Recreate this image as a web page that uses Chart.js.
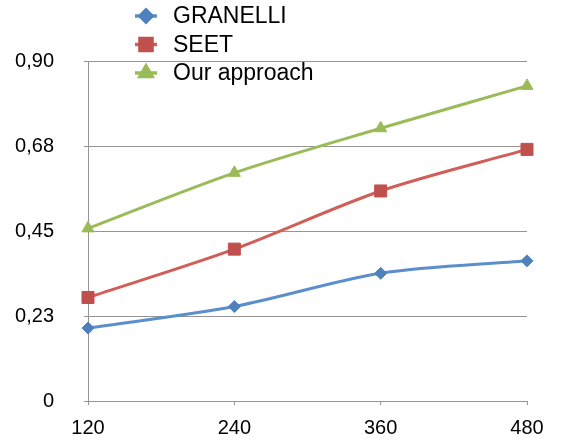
<!DOCTYPE html>
<html>
<head>
<meta charset="utf-8">
<script src="https://cdn.jsdelivr.net/npm/chart.js@4/dist/chart.umd.min.js"></script>
<style>
  html, body { margin: 0; padding: 0; background: #fff; }
</style>
</head>
<body>
<canvas id="chart" width="567" height="444"></canvas>
<script>
// data
const categories = ['120', '240', '360', '480']
const granelli = [0.193, 0.250, 0.338, 0.371]
const seet = [0.274, 0.402, 0.556, 0.666]
const ourApproach = [0.457, 0.604, 0.722, 0.834]
const yTickLabels = ['0', '0,23', '0,45', '0,68', '0,90']

const FONT = "'Liberation Sans', Arial, Helvetica, sans-serif"
const GRID = '#959595'

// vertical legend drawn on top of the plot, like the original
const stackedLegend = {
    id: 'stackedLegend',
    afterDraw(chart) {
        const ctx = chart.ctx
        ctx.save()
        chart.data.datasets.forEach((ds, i) => {
            const y = 16 + i * 28.5
            ctx.strokeStyle = ds.borderColor
            ctx.lineWidth = 3.5
            ctx.beginPath()
            ctx.moveTo(135, y)
            ctx.lineTo(157, y)
            ctx.stroke()
            ctx.fillStyle = ds.pointBackgroundColor
            ctx.strokeStyle = ds.pointBackgroundColor
            Chart.helpers.drawPoint(ctx, {
                pointStyle: ds.pointStyle,
                radius: ds.pointRadius,
                rotation: 0,
                borderWidth: 1
            }, 146, y)
            ctx.fillStyle = '#000'
            ctx.font = '23px ' + FONT
            ctx.textBaseline = 'middle'
            ctx.textAlign = 'left'
            ctx.fillText(ds.label, 173, y + 1)
        })
        ctx.restore()
    }
}

new Chart(document.getElementById('chart'), {
    type: 'line',
    data: {
        labels: categories,
        datasets: [{
            label: 'GRANELLI',
            data: granelli,
            borderColor: '#5b8fcc',
            pointBackgroundColor: '#4f81bd',
            pointBorderColor: '#4f81bd',
            pointStyle: 'rectRot',
            pointRadius: 6
        }, {
            label: 'SEET',
            data: seet,
            borderColor: '#cf5f58',
            pointBackgroundColor: '#c0504d',
            pointBorderColor: '#c0504d',
            pointStyle: 'rect',
            pointRadius: 8.5
        }, {
            label: 'Our approach',
            data: ourApproach,
            borderColor: '#9bbb59',
            pointBackgroundColor: '#9bbb59',
            pointBorderColor: '#9bbb59',
            pointStyle: 'triangle',
            pointRadius: 7
        }]
    },
    options: {
        responsive: false,
        animation: false,
        layout: { padding: { top: 61, right: 40, left: 0, bottom: 0 } },
        elements: {
            line: { borderWidth: 3, tension: 0.3 },
            point: { borderWidth: 1, hoverRadius: 6 }
        },
        datasets: { line: { clip: false } },
        plugins: {
            legend: { display: false },
            tooltip: { enabled: false }
        },
        scales: {
            x: {
                afterFit: scale => { scale.height = 43 },
                grid: { drawOnChartArea: false, color: GRID, tickLength: 4 },
                border: { color: GRID },
                ticks: { color: '#000', padding: 11, font: { size: 20, family: FONT } }
            },
            y: {
                min: 0,
                max: 0.9,
                afterFit: scale => { scale.width = 88 },
                grid: { color: GRID, tickLength: 4 },
                border: { color: GRID },
                ticks: {
                    stepSize: 0.225,
                    color: '#000',
                    padding: 30,
                    font: { size: 20, family: FONT },
                    callback: (value, index) => yTickLabels[index]
                }
            }
        }
    },
    plugins: [stackedLegend]
})
</script>
</body>
</html>
